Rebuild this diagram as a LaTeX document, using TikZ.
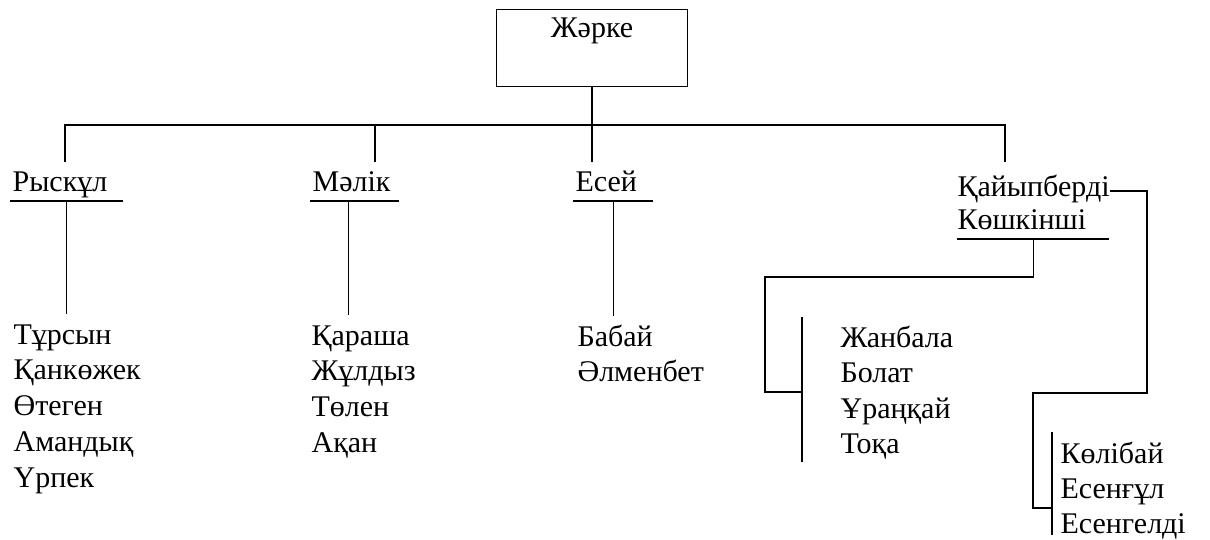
\documentclass[tikz,border=0pt]{standalone}
\usepackage{fontspec}
\setmainfont{Liberation Serif}
\begin{document}
\begin{tikzpicture}[
	x=1pt, y=-1pt,
	line width=1.2pt,
	every node/.style={font=\fontsize{30}{36}\selectfont, inner sep=0pt},
	rootbox/.style={rectangle, draw, minimum width=191pt, text height=28pt, text depth=49pt, anchor=north},
	namebox/.style={anchor=south west, inner xsep=2pt, text height=30pt, text depth=9pt, align=left}, % underline drawn below
	kidname/.style={anchor=base west, text height=29pt},
]
\useasboundingbox (0,0) rectangle (1210,539);

% top of the family
\node[rootbox] (root) at (592,9) {Жәрке};

% sons
\node[namebox, text width=108pt] (rys) at (10,201) {Рыскұл};
\node[namebox, text width=84pt] (mal) at (310,201) {Мәлік};
\node[namebox, text width=75pt] (yes) at (573,201) {Есей};
\node[anchor=base west] (kay) at (957,196) {Қайыпберді};
\node[namebox, inner xsep=0pt, text width=151pt] (kosh) at (957,239) {Көшкінші};
\foreach \p in {rys,mal,yes,kosh}
	\draw (\p.south west) -- (\p.south east);

% grandsons
\foreach \n [count=\i] in {Тұрсын,Қанкөжек,Өтеген,Амандық,Үрпек}
	\node[kidname] (rk\i) at (13,{344+35.75*(\i-1)}) {\n};
\foreach \n [count=\i] in {Қараша,Жұлдыз,Төлен,Ақан}
	\node[kidname] (mk\i) at (311,{345+35.75*(\i-1)}) {\n};
\foreach \n [count=\i] in {Бабай,Әлменбет}
	\node[kidname] (ek\i) at (577,{346+35.75*(\i-1)}) {\n};
\foreach \n [count=\i] in {Жанбала,Болат,Ұраңқай,Тоқа}
	\node[kidname] (jk\i) at (840,{347+35.5*(\i-1)}) {\n};
\foreach \n [count=\i] in {Көлібай,Есенғұл,Есенгелді}
	\node[kidname] (kk\i) at (1060,{463+35*(\i-1)}) {\n};

% ends of the drops from the bus line
\coordinate (bus) at (592,125);
\coordinate (f1) at (65,162);
\coordinate (f2) at (375,162);
\coordinate (f3) at (592,162);
\coordinate (f4) at (1005,162);
% brackets in front of the last two groups
\coordinate (jtop) at (802,317);
\coordinate (jbot) at (802,462);
\coordinate (jmid) at (802,392);
\coordinate (ktop) at (1052,432);
\coordinate (kbot) at (1052,535);
\coordinate (kmid) at (1052,508);

\draw (root) -- (f3);
\draw (f1) |- (bus) -| (f4);
\draw (f2) -- (f2 |- bus);

\draw (rys.south) -- (rys.south |- rk1.north);
\draw ([xshift=-6pt]mal.south) -- ([xshift=-6pt]mal.south |- mk1.north);
\draw (yes.south) -- (yes.south |- ek1.north);

\draw (jtop) -- (jbot);
\draw (ktop) -- (kbot);
\draw (kosh.south) |- (765,277) |- (jmid);
\draw ([yshift=5pt]kay.base east) -| (1147,393) -- (1033,393) |- (kmid);
\end{tikzpicture}
\end{document}
